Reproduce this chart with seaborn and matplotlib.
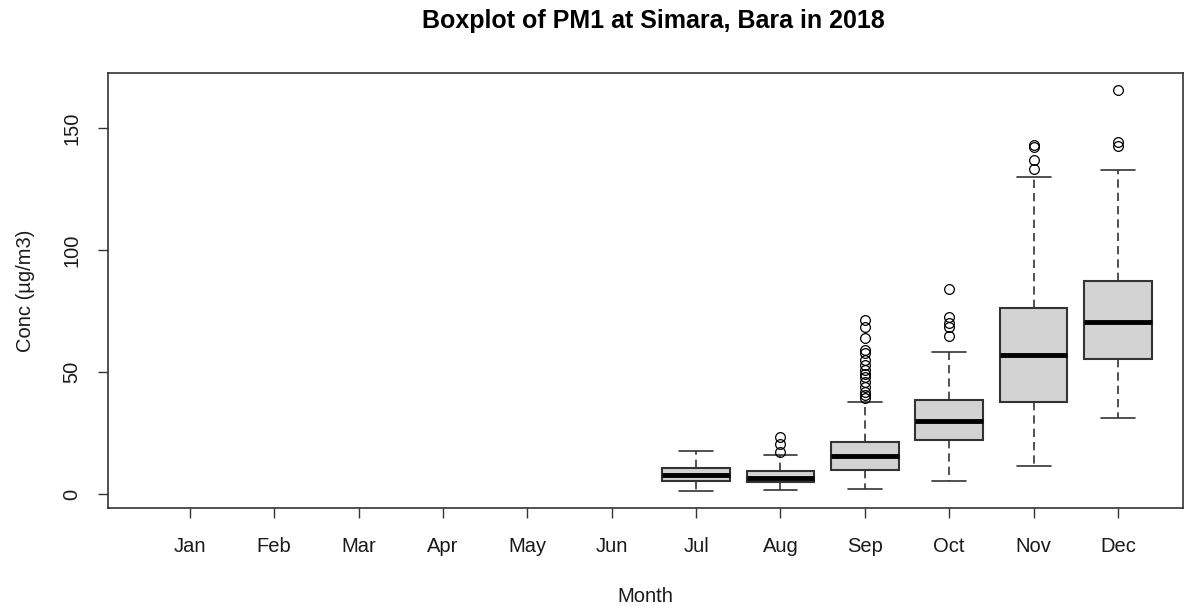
import matplotlib
matplotlib.use("Agg")
import matplotlib.pyplot as plt
import seaborn as sns
import numpy as np

months = ["Jan", "Feb", "Mar", "Apr", "May", "Jun", "Jul", "Aug", "Sep", "Oct", "Nov", "Dec"]
box_months = ["Jul", "Aug", "Sep", "Oct", "Nov", "Dec"]
whis_low = [1.4, 1.8, 2.3, 5.5, 11.5, 31.3]
q1 = [5.5, 5.0, 9.8, 22.1, 37.6, 55.2]
median = [7.9, 6.7, 15.6, 30.1, 57.2, 70.6]
q3 = [10.9, 9.3, 21.4, 38.5, 76.1, 87.3]
whis_high = [17.8, 16.1, 37.6, 58.3, 129.9, 132.7]
outliers = [
    [],
    [17.3, 20.4, 23.5],
    [39.2, 40.6, 41.9, 44.0, 46.0, 48.1, 49.4, 50.8, 52.9, 54.9, 57.7, 59.0, 63.8, 68.6, 71.3],
    [64.8, 68.6, 70.0, 72.4, 84.0],
    [133.2, 136.9, 142.1, 143.0],
    [142.6, 144.4, 165.6],
]

sns.set_theme(style="white")
plt.rcParams["font.family"] = ["Liberation Sans", "DejaVu Sans"]

fig = plt.figure(figsize=(11.93, 6.07), dpi=100)
ax = fig.add_axes([0.0905, 0.163, 0.9011, 0.7167])

stats = []
for i, m in enumerate(box_months):
    stats.append(dict(label=m, whislo=whis_low[i], q1=q1[i], med=median[i],
                      q3=q3[i], whishi=whis_high[i], fliers=outliers[i]))
positions = [months.index(m) for m in box_months]

edge = "#333333"
ax.bxp(stats, positions=positions, widths=0.8, patch_artist=True,
       showfliers=True, manage_ticks=False,
       boxprops=dict(facecolor="#D3D3D3", edgecolor=edge, linewidth=1.5),
       medianprops=dict(color="black", linewidth=3.5, solid_capstyle="butt"),
       whiskerprops=dict(color=edge, linewidth=1.2, linestyle=(0, (5, 3))),
       capprops=dict(color=edge, linewidth=1.2),
       capwidths=0.4,
       flierprops=dict(marker="o", markerfacecolor="none", markeredgecolor="black",
                       markersize=7, markeredgewidth=0.9))

ax.set_xlim(-0.97, 11.77)
ax.set_ylim(-5.7, 172.5)
ax.set_xticks(range(len(months)))
ax.set_xticklabels(months)
ax.set_yticks([0, 50, 100, 150])
ax.set_yticklabels(["0", "50", "100", "150"], rotation=90, va="center")

for s in ax.spines.values():
    s.set_visible(True)
    s.set_color(edge)
    s.set_linewidth(1.2)

fs = 14.5
txt = "#1a1a1a"
ax.tick_params(axis="both", which="both", direction="out", length=7, width=1.0,
               color=edge, labelsize=fs, labelcolor=txt,
               bottom=True, left=True)
ax.tick_params(axis="x", pad=14)
ax.tick_params(axis="y", pad=12)

ax.set_xlabel("Month", fontsize=fs, color=txt, labelpad=22)
ax.set_ylabel("Conc (µg/m3)", fontsize=fs, color=txt, labelpad=20)
fig.suptitle("Boxplot of PM1 at Simara, Bara in 2018", fontsize=18, fontweight="bold",
             y=0.985, x=0.548, color="black")
ax.grid(False)

fig.savefig("out.png", dpi=100, facecolor="white")
